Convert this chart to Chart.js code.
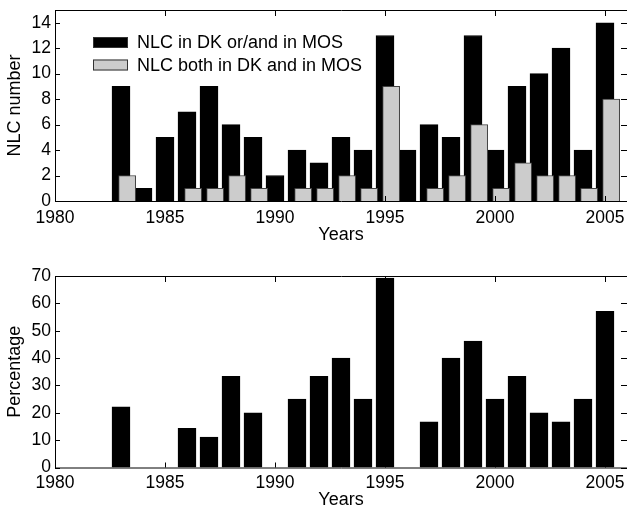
<!DOCTYPE html>
<html>
<head>
<meta charset="utf-8">
<script src="https://cdn.jsdelivr.net/npm/chart.js@4.4.1/dist/chart.umd.min.js"></script>
<style>
  body { margin: 0; background: #fff; }
  canvas { display: block; }
</style>
</head>
<body>
<canvas id="topChart" width="627" height="255"></canvas>
<canvas id="bottomChart" width="627" height="256"></canvas>
<script>
// data
const years = [1983, 1984, 1985, 1986, 1987, 1988, 1989, 1990, 1991, 1992, 1993, 1994,
               1995, 1996, 1997, 1998, 1999, 2000, 2001, 2002, 2003, 2004, 2005];
const nlcAny  = [9, 1, 5, 7, 9, 6, 5, 2, 4, 3, 5, 4, 13, 4, 6, 5, 13, 4, 9, 10, 12, 4, 14];
const nlcBoth = [2, 0, 0, 1, 1, 2, 1, 0, 1, 1, 2, 1, 9, 0, 1, 2, 6, 1, 3, 2, 2, 1, 8];
const percentage = [22.2, 0, 0, 14.3, 11.1, 33.3, 20, 0, 25, 33.3, 40, 25, 69.2, 0,
                    16.7, 40, 46.2, 25, 33.3, 20, 16.7, 25, 57.1];
const yearTicks = [1980, 1985, 1990, 1995, 2000, 2005];
const countTicks = [0, 2, 4, 6, 8, 10, 12, 14];
const pctTicks = [0, 10, 20, 30, 40, 50, 60, 70];

const grayShift = 0.28; // second series is drawn a bit to the right

Chart.defaults.font.family = 'Liberation Sans';
Chart.defaults.font.size = 17.5;
Chart.defaults.color = '#000';

// matlab style box with inward ticks
const matlabFrame = {
  id: 'matlabFrame',
  afterDraw(chart) {
    const ctx = chart.ctx;
    const a = chart.chartArea;
    const sx = chart.scales.x, sy = chart.scales.y;
    ctx.save();
    ctx.strokeStyle = '#000';
    ctx.lineWidth = 1;
    ctx.beginPath();
    ctx.rect(a.left + 0.5, a.top + 0.5, a.right - a.left, a.bottom - a.top);
    sx.ticks.forEach(t => {
      const px = Math.round(sx.getPixelForValue(t.value)) + 0.5;
      ctx.moveTo(px, a.bottom); ctx.lineTo(px, a.bottom - 5);
      ctx.moveTo(px, a.top); ctx.lineTo(px, a.top + 6);
    });
    sy.ticks.forEach(t => {
      const py = Math.round(sy.getPixelForValue(t.value)) + 0.5;
      ctx.moveTo(a.left, py); ctx.lineTo(a.left + 5, py);
      ctx.moveTo(a.right, py); ctx.lineTo(a.right - 6, py);
    });
    ctx.stroke();
    ctx.restore();
  }
};

// legend drawn inside the plot area
const boxLegend = {
  id: 'boxLegend',
  afterDraw(chart, args, opts) {
    if (!opts.show) return;
    const ctx = chart.ctx;
    ctx.save();
    ctx.font = '18px "Liberation Sans"';
    ctx.textBaseline = 'middle';
    chart.data.datasets.forEach((ds, i) => {
      const y = opts.y + i * opts.rowH;
      ctx.fillStyle = ds.backgroundColor;
      ctx.fillRect(opts.x, y, opts.boxW, opts.boxH);
      ctx.strokeStyle = '#333';
      ctx.lineWidth = 1;
      ctx.strokeRect(opts.x + 0.5, y + 0.5, opts.boxW - 1, opts.boxH - 1);
      ctx.fillStyle = '#000';
      ctx.fillText(ds.label, opts.x + opts.boxW + opts.gap, y + opts.boxH / 2 + 1);
    });
    ctx.restore();
  }
};

function xAxis(axisH, tickPad, titlePad) {
  return {
    type: 'linear',
    min: 1980,
    max: 2006,
    offset: false,
    grid: { display: false, drawTicks: false },
    border: { display: false },
    afterBuildTicks: s => { s.ticks = yearTicks.map(v => ({ value: v })); },
    ticks: { padding: tickPad, maxRotation: 0, autoSkip: false, callback: v => String(v) },
    title: { display: true, text: 'Years', font: { size: 18 }, padding: { top: 0, bottom: titlePad } },
    afterFit: s => { s.height = axisH; s.paddingLeft = 0; s.paddingRight = 0; }
  };
}

function yAxis(label, max, tickList) {
  return {
    min: 0,
    max: max,
    grid: { display: false, drawTicks: false },
    border: { display: false },
    afterBuildTicks: s => { s.ticks = tickList.map(v => ({ value: v })); },
    ticks: { padding: 4, callback: v => String(v) },
    title: { display: true, text: label, font: { size: 18 }, padding: { top: 4.5, bottom: 0 } },
    afterFit: s => { s.width = 55; s.paddingTop = 0; s.paddingBottom = 0; }
  };
}

new Chart(document.getElementById('topChart'), {
  type: 'bar',
  data: {
    datasets: [
      {
        label: 'NLC in DK or/and in MOS',
        data: years.map((yr, i) => ({ x: yr, y: nlcAny[i] })),
        backgroundColor: '#000',
        borderColor: '#000',
        borderWidth: 1,
        barThickness: 18,
        grouped: false,
        order: 1
      },
      {
        label: 'NLC both in DK and in MOS',
        data: years.map((yr, i) => ({ x: yr + grayShift, y: nlcBoth[i] })),
        backgroundColor: '#cccccc',
        borderColor: '#444',
        borderWidth: 1,
        barThickness: 17,
        grouped: false,
        order: 0
      }
    ]
  },
  options: {
    responsive: false,
    animation: false,
    events: [],
    layout: { padding: { top: 10, left: 0, right: 0, bottom: 0 } },
    scales: {
      x: xAxis(54, 7, 9.5),
      y: yAxis('NLC number', 15, countTicks)
    },
    plugins: {
      legend: { display: false },
      tooltip: { enabled: false },
      boxLegend: { show: true, x: 93, y: 37, boxW: 35, boxH: 11, rowH: 22.5, gap: 9 }
    }
  },
  plugins: [matlabFrame, boxLegend]
});

new Chart(document.getElementById('bottomChart'), {
  type: 'bar',
  data: {
    datasets: [
      {
        label: 'Percentage',
        data: years.map((yr, i) => ({ x: yr, y: percentage[i] })),
        backgroundColor: '#000',
        borderColor: '#000',
        borderWidth: 1,
        barThickness: 18,
        grouped: false
      }
    ]
  },
  options: {
    responsive: false,
    animation: false,
    events: [],
    layout: { padding: { top: 21, left: 0, right: 0, bottom: 0 } },
    scales: {
      x: xAxis(43.5, 5.5, 0),
      y: yAxis('Percentage', 70, pctTicks)
    },
    plugins: {
      legend: { display: false },
      tooltip: { enabled: false },
      boxLegend: { show: false }
    }
  },
  plugins: [matlabFrame, boxLegend]
});
</script>
</body>
</html>
